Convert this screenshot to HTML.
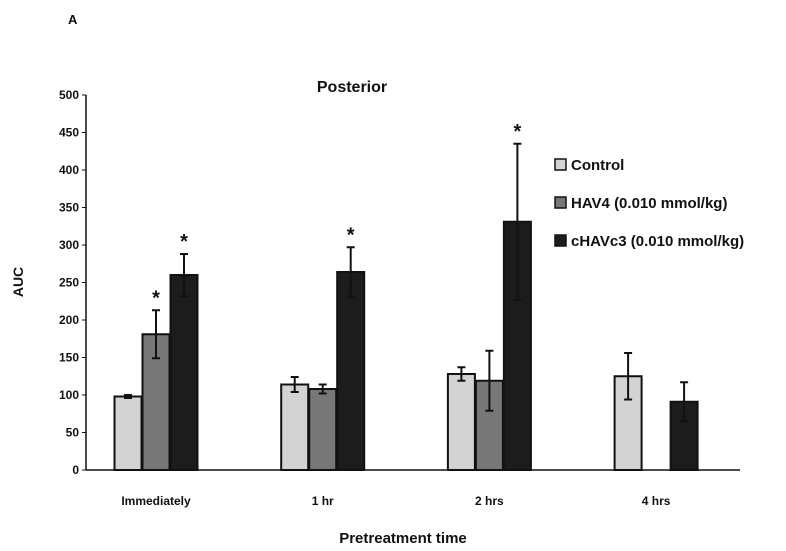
<!DOCTYPE html>
<html><head><meta charset="utf-8"><style>
body{margin:0;background:#fff;width:786px;height:546px;overflow:hidden}
svg text{font-family:"Liberation Sans",sans-serif;font-weight:bold;fill:#111}
</style></head><body>
<svg id="chart" width="786" height="546">
<text x="68" y="24" font-size="13">A</text>
<text x="352" y="92" font-size="16" text-anchor="middle">Posterior</text>
<text transform="translate(23,282) rotate(-90)" font-size="14" text-anchor="middle">AUC</text>
<text x="403" y="543" font-size="15" text-anchor="middle">Pretreatment time</text>
<g id="axes"></g><g id="bars"></g>
<g>
<rect x="555" y="159" width="11" height="11" fill="#d3d3d3" stroke="#111" stroke-width="1.5"/>
<text x="571" y="170" font-size="15">Control</text>
<rect x="555" y="197" width="11" height="11" fill="#777" stroke="#111" stroke-width="1.5"/>
<text x="571" y="208" font-size="15">HAV4 (0.010 mmol/kg)</text>
<rect x="555" y="235" width="11" height="11" fill="#1c1c1c" stroke="#111" stroke-width="1.5"/>
<text x="571" y="246" font-size="15">cHAVc3 (0.010 mmol/kg)</text>
</g>
</svg>
<script>
const categories=["Immediately","1 hr","2 hrs","4 hrs"];
const control=[98,114,128,125];
const controlErr=[2,10,9,31];
const hav4=[181,108,119,null];
const hav4Err=[32,6,40,null];
const chav=[260,264,331,91];
const chavErr=[28,33,104,26];
const hav4Sig=[true,false,false,false];
const chavSig=[true,true,true,false];
const yTicks=[0,50,100,150,200,250,300,350,400,450,500];
const NS="http://www.w3.org/2000/svg";
const y=v=>470-v*0.75;
const xc=i=>156+i*166.7;
const axes=document.getElementById('axes'),bars=document.getElementById('bars');
function mk(tag,attrs,parent){const e=document.createElementNS(NS,tag);for(const k in attrs)e.setAttribute(k,attrs[k]);parent.appendChild(e);return e;}
let yl=mk('line',{x1:86,x2:86,y1:95,y2:470,stroke:'#111','stroke-width':1.5},axes);


let xl=mk('line',{x1:86,x2:740,y1:470,y2:470,stroke:'#111','stroke-width':1.5},axes);


yTicks.forEach(t=>{
 let tk=mk('line',{x1:82,x2:86,y1:y(t),y2:y(t),stroke:'#111','stroke-width':1},axes);
 
 
 let tl=mk('text',{x:79,y:y(t)+4,'font-size':12,'text-anchor':'end'},axes);tl.textContent=t;
 
 
});
categories.forEach((c,i)=>{
 let t=mk('text',{x:xc(i),y:505,'font-size':12,'text-anchor':'middle'},axes);t.textContent=c;
 
 
});
const series=[[control,controlErr,'#d3d3d3',-1,null],[hav4,hav4Err,'#777',0,hav4Sig],[chav,chavErr,'#1c1c1c',1,chavSig]];
series.forEach(([vals,errs,fill,off,sig],si)=>{
 vals.forEach((v,i)=>{
  if(v==null)return;
  const cx=xc(i)+off*28;
  let r=mk('rect',{x:cx-13.5,y:y(v),width:27,height:470-y(v),fill:fill,stroke:'#111','stroke-width':2},bars);
  
  
  const e=errs[i];
  let g=mk('path',{d:`M${cx},${y(v+e)}V${y(v-e)}M${cx-4},${y(v+e)}H${cx+4}M${cx-4},${y(v-e)}H${cx+4}`,stroke:'#111','stroke-width':2,fill:'none'},bars);
  
  
  if(sig&&sig[i]){
   let s=mk('text',{x:cx,y:y(v+e)-6,'font-size':20,'text-anchor':'middle'},bars);s.textContent='*';
   
   
  }
 });
});
</script>
</body></html>
